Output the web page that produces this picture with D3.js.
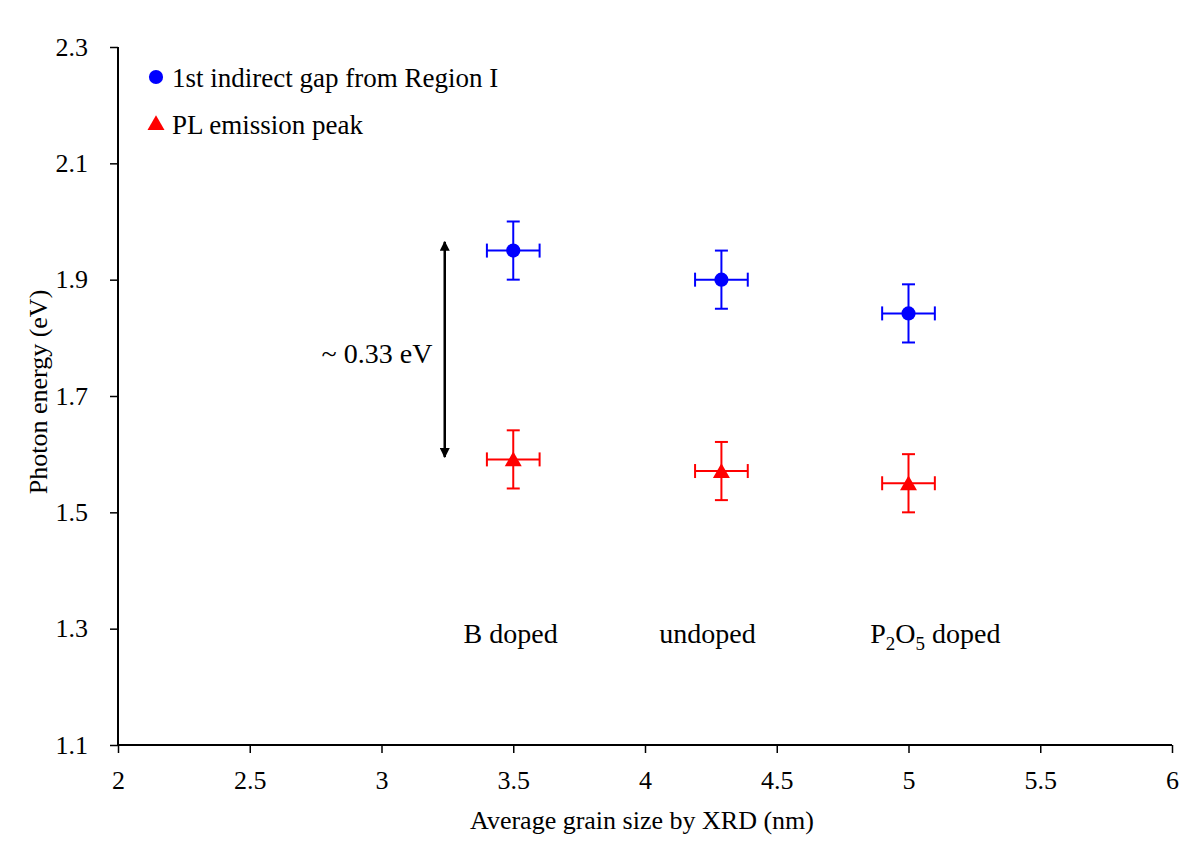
<!DOCTYPE html>
<html><head><meta charset="utf-8">
<script src="https://cdn.jsdelivr.net/npm/d3@7"></script>
<style>body{margin:0;background:#fff;} svg text{font-family:"Liberation Serif","Times New Roman",serif;}</style>
</head><body>
<svg id="c" width="1200" height="867" font-family="Liberation Serif"></svg>
<script>
const grainSize = [3.5, 4.29, 5.0];
const grainErr = [0.1, 0.1, 0.1];
const indirectGap = [1.95, 1.90, 1.842];
const indirectErr = [0.05, 0.05, 0.05];
const plPeak = [1.591, 1.571, 1.550];
const plErr = [0.05, 0.05, 0.05];
const sampleLabels = ["B doped", "undoped", "P2O5 doped"];
const sampleLabelX = [3.49, 4.237, 5.102];
const sampleLabelY = 1.275;
const xTicks = [2, 2.5, 3, 3.5, 4, 4.5, 5, 5.5, 6];
const yTicks = [1.1, 1.3, 1.5, 1.7, 1.9, 2.1, 2.3];
const legendLabels = ["1st indirect gap from Region I", "PL emission peak"];
const arrowX = 3.24, arrowTop = 1.965, arrowBottom = 1.595;
const arrowLabel = "~ 0.33 eV";

const svg = d3.select("#c");
const x = d3.scaleLinear().domain([2, 6]).range([118, 1172]);
const y = d3.scaleLinear().domain([1.1, 2.3]).range([745, 47]);

const xAxis = svg.append("g").attr("transform", "translate(0,745)")
  .call(d3.axisBottom(x).tickValues(xTicks).tickSize(8).tickPadding(18).tickFormat(d3.format("")));
const yAxis = svg.append("g").attr("transform", "translate(118,0)")
  .call(d3.axisLeft(y).tickValues(yTicks).tickSize(8).tickPadding(22).tickFormat(d3.format(".1f")));
[xAxis, yAxis].forEach(a => {
  a.attr("font-family", "Liberation Serif").attr("font-size", 26);
  a.select(".domain").attr("stroke", "#000").attr("stroke-width", 2);
  a.selectAll(".tick line").attr("stroke", "#000").attr("stroke-width", 1.5);
  a.selectAll(".tick text").attr("font-family", "Liberation Serif").attr("font-size", 26).attr("fill", "#000");
});
xAxis.select(".domain").attr("d", "M118,0H1172");
yAxis.select(".domain").attr("d", "M0,47V745");

svg.append("text").attr("x", 642).attr("y", 829).attr("text-anchor", "middle")
  .attr("font-size", 26).text("Average grain size by XRD (nm)");
svg.append("text").attr("transform", "translate(47,392) rotate(-90)").attr("text-anchor", "middle")
  .attr("font-size", 26).text("Photon energy (eV)");

function errorBars(vals, errs, color) {
  const g = svg.append("g").attr("stroke", color).attr("stroke-width", 2);
  const cap = 6.5;
  vals.forEach((v, i) => {
    const cx = x(grainSize[i]), cy = y(v);
    const y1 = y(v + errs[i]), y2 = y(v - errs[i]);
    const x1 = x(grainSize[i] - grainErr[i]), x2 = x(grainSize[i] + grainErr[i]);
    g.append("line").attr("x1", cx).attr("x2", cx).attr("y1", y1).attr("y2", y2);
    g.append("line").attr("x1", cx - cap).attr("x2", cx + cap).attr("y1", y1).attr("y2", y1);
    g.append("line").attr("x1", cx - cap).attr("x2", cx + cap).attr("y1", y2).attr("y2", y2);
    g.append("line").attr("x1", x1).attr("x2", x2).attr("y1", cy).attr("y2", cy);
    g.append("line").attr("x1", x1).attr("x2", x1).attr("y1", cy - 7).attr("y2", cy + 7);
    g.append("line").attr("x1", x2).attr("x2", x2).attr("y1", cy - 7).attr("y2", cy + 7);
  });
}
errorBars(indirectGap, indirectErr, "#0000ff");
errorBars(plPeak, plErr, "#ff0000");

const circ = d3.symbol().type(d3.symbolCircle).size(158);
const tri = d3.symbol().type(d3.symbolTriangle).size(125);
svg.append("g").selectAll("path").data(indirectGap).join("path")
  .attr("d", circ).attr("fill", "#0000ff")
  .attr("transform", (d, i) => `translate(${x(grainSize[i])},${y(d)})`);
svg.append("g").selectAll("path").data(plPeak).join("path")
  .attr("d", tri).attr("fill", "#ff0000")
  .attr("transform", (d, i) => `translate(${x(grainSize[i])},${y(d) + 2})`);

// legend
svg.append("path").attr("d", circ).attr("fill", "#0000ff").attr("transform", "translate(156,77)");
svg.append("path").attr("d", tri).attr("fill", "#ff0000").attr("transform", "translate(156,125)");
svg.append("text").attr("x", 172).attr("y", 87).attr("font-size", 27).text(legendLabels[0]);
svg.append("text").attr("x", 172).attr("y", 134).attr("font-size", 27).text(legendLabels[1]);

// arrow
const defs = svg.append("defs");
defs.append("marker").attr("id", "ah").attr("viewBox", "0 0 10 10").attr("refX", 9).attr("refY", 5)
  .attr("markerWidth", 4).attr("markerHeight", 4).attr("orient", "auto-start-reverse")
  .append("path").attr("d", "M0,0L10,5L0,10Z").attr("fill", "#000");
svg.append("line").attr("x1", x(arrowX)).attr("x2", x(arrowX)).attr("y1", y(arrowTop)).attr("y2", y(arrowBottom))
  .attr("stroke", "#000").attr("stroke-width", 2.5)
  .attr("marker-start", "url(#ah)").attr("marker-end", "url(#ah)");
svg.append("text").attr("x", 377).attr("y", 363).attr("text-anchor", "middle").attr("font-size", 28).text(arrowLabel);

// sample labels
sampleLabels.forEach((s, i) => {
  const t = svg.append("text").attr("x", x(sampleLabelX[i])).attr("y", y(sampleLabelY)).attr("text-anchor", "middle").attr("font-size", 28);
  if (s === "P2O5 doped") {
    t.append("tspan").text("P");
    t.append("tspan").attr("font-size", 19).attr("dy", 7).text("2");
    t.append("tspan").attr("dy", -7).text("O");
    t.append("tspan").attr("font-size", 19).attr("dy", 7).text("5");
    t.append("tspan").attr("dy", -7).text(" doped");
  } else t.text(s);
});
</script>
</body></html>
